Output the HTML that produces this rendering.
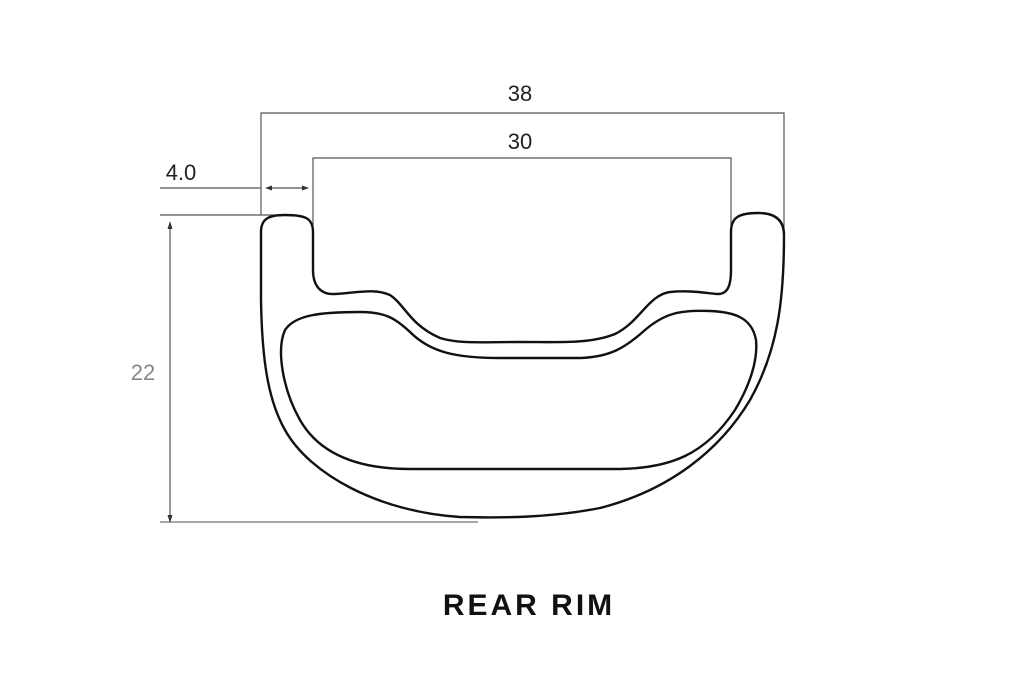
<!DOCTYPE html>
<html><head><meta charset="utf-8"><style>
html,body{margin:0;padding:0;background:#fff;}
svg{display:block;}
</style></head><body>
<svg width="1024" height="682" viewBox="0 0 1024 682" xmlns="http://www.w3.org/2000/svg">
<g stroke="#555" stroke-width="1.2" fill="none">
<path d="M261 215 V113 H784 V228"/>
<path d="M313 225 V158 H731 V225"/>
<path d="M160 188 H261"/>
<path d="M160 215 H290"/>
<path d="M267 188 H307"/>
<path d="M170 224 V520"/>
</g>
<path d="M160 522 H478" stroke="#888" stroke-width="1.5"/>
<g fill="#333">
<path d="M265 188 L272 185.5 L272 190.5Z"/>
<path d="M309 188 L302 185.5 L302 190.5Z"/>
<path d="M170 221 L167.5 229 L172.5 229Z"/>
<path d="M170 523 L167.5 515 L172.5 515Z"/>
</g>
<g stroke="#111" stroke-width="2.4" fill="none" stroke-linejoin="round">
<path d="M261 232 C261 218 270 215 285 215 C305 215 313 218 313 232 V270 C313 285 320 295 335 294 C355 293 375 288 390 295 C405 305 410 325 440 338 C460 344 480 342 520 342 C560 342 590 344 615 334 C640 322 648 295 670 292 C690 290 705 293 718 294 C728 294 731 285 731 270 V232 C731 218 738 213 758 213 C775 213 784 220 784 235 C784 300 778 350 750 400 C720 450 670 490 600 508 C550 518 500 518 460 517 C380 512 310 475 285 430 C268 400 262 360 261 300 Z"/>
<path d="M285 330 C295 315 320 312 360 312 C385 312 395 318 410 332 C430 352 455 358 500 358 H580 C610 357 625 348 645 330 C665 313 680 310 710 311 C735 312 752 318 756 340 C758 360 750 385 735 410 C705 455 670 468 620 469 H410 C360 469 320 455 300 420 C283 390 276 350 285 330 Z"/>
</g>
<g font-family="Liberation Sans, sans-serif">
<text x="520" y="101" font-size="22" text-anchor="middle" fill="#222">38</text>
<text x="520" y="149" font-size="22" text-anchor="middle" fill="#222">30</text>
<text x="181" y="180" font-size="22" text-anchor="middle" fill="#222">4.0</text>
<text x="143" y="380" font-size="22" text-anchor="middle" fill="#888">22</text>
<text x="529" y="615" font-size="30" font-weight="bold" text-anchor="middle" letter-spacing="3" fill="#111">REAR RIM</text>
</g>
</svg>
</body></html>
